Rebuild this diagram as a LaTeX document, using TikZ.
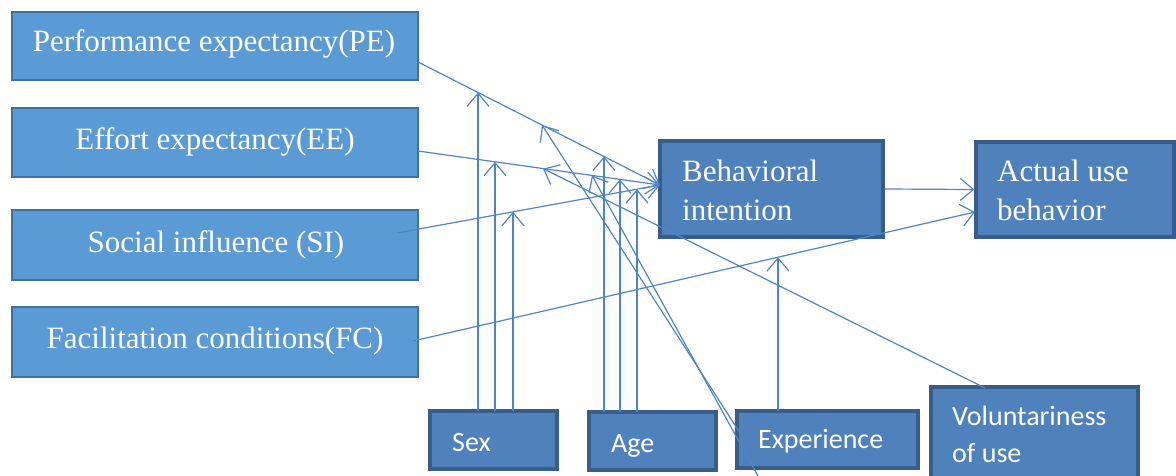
\documentclass[tikz,border=0pt]{standalone}
\usepackage{fontspec}
\usetikzlibrary{arrows.meta,calc}
\newfontfamily\boxserif{Liberation Serif}
\newfontfamily\boxsans{Carlito}
\definecolor{lfill}{HTML}{5B9BD5}
\definecolor{ldraw}{HTML}{41719C}
\definecolor{dfill}{HTML}{4F81BD}
\definecolor{ddraw}{HTML}{385D8A}
\definecolor{connc}{HTML}{4F85C6}
\tikzset{
  lbox/.style={rectangle, fill=lfill, draw=ldraw, line width=2pt, inner sep=0pt, minimum width=406pt},
  dbox/.style={rectangle, fill=dfill, draw=ddraw, line width=3.5pt, inner sep=0pt},
  stxt/.style={inner sep=0pt, text=white, font=\boxserif\fontsize{31}{38}\selectfont},
  ctxt/.style={inner sep=0pt, text=white, font=\boxsans\fontsize{28}{37}\selectfont, anchor=base west},
  conn/.style={draw=connc, line width=1.2pt, -{Straight Barb[length=13pt,width=22pt]}}
}
\begin{document}
\begin{tikzpicture}[x=1pt,y=-1pt]
\useasboundingbox (0,0) rectangle (1176,476);
\clip (0,0) rectangle (1176,476);
% left boxes
\node[lbox, minimum height=68pt] (pe) at (215,46) {};
\node[lbox, minimum height=69pt] (ee) at (215,142.5) {};
\node[lbox, minimum height=70pt] (si) at (215,245) {};
\node[lbox, minimum height=70pt] (fc) at (215,342) {};
% right boxes
\node[dbox, minimum width=223pt, minimum height=96pt] (bi) at (771.5,189) {};
\node[dbox, minimum width=198pt, minimum height=95pt] (au) at (1075,189.5) {};
% bottom boxes
\node[dbox, minimum width=127pt, minimum height=58pt] (sex) at (493.5,440) {};
\node[dbox, minimum width=127pt, minimum height=58pt] (age) at (652.5,441) {};
\node[dbox, minimum width=181pt, minimum height=57pt] (exp) at (827.5,439.5) {};
\node[dbox, minimum width=207pt, minimum height=106pt] (vol) at (1034.5,440) {};
% connector end points
\coordinate (peo) at (418,62);
\coordinate (eeo) at (418,151);
\coordinate (sio) at (397,233);
\coordinate (fco) at (413,341);
\coordinate (bii) at (660,185);
\coordinate (aui) at (975,212);
% main paths
\draw[conn] (peo) -- (bii);
\draw[conn] (eeo) -- (bii);
\draw[conn] (sio) -- (bii);
\draw[conn] (fco) -- (aui);
\draw[conn] (bi.east) -- (au.west);
% moderator targets
\coordinate (m1) at ($(peo)!0.2479!(bii)$);
\coordinate (m2) at ($(eeo)!0.3182!(bii)$);
\coordinate (m3) at ($(sio)!0.4411!(bii)$);
\coordinate (m4) at ($(peo)!0.7686!(bii)$);
\coordinate (m5) at ($(eeo)!0.8347!(bii)$);
\coordinate (m6) at ($(sio)!0.9125!(bii)$);
\coordinate (m7) at ($(fco)!0.6495!(aui)$);
\coordinate (m8) at ($(peo)!0.5124!(bii)$);
\coordinate (m9) at ($(eeo)!0.7190!(bii)$);
\coordinate (m10) at ($(eeo)!0.5165!(bii)$);
% moderator sources
\coordinate (s1) at (478,411);
\coordinate (s2) at (495,411);
\coordinate (s3) at (513,411);
\coordinate (a1) at (604,412);
\coordinate (a2) at (620,412);
\coordinate (a3) at (637,412);
\coordinate (e1) at (778,411);
\coordinate (e2) at (740,433);
\coordinate (e3) at (758,476);
\coordinate (v1) at (985,388);
\draw[conn] (s1) -- (s1 |- m1);
\draw[conn] (s2) -- (s2 |- m2);
\draw[conn] (s3) -- (s3 |- m3);
\draw[conn] (a1) -- (a1 |- m4);
\draw[conn] (a2) -- (a2 |- m5);
\draw[conn] (a3) -- (a3 |- m6);
\draw[conn] (e1) -- (e1 |- m7);
\draw[conn] (e2) -- (m8);
\draw[conn] (e3) -- (m9);
\draw[conn] (v1) -- (m10);
% texts
\node[stxt, anchor=base] (pe-t) at (214,52) {Performance expectancy(PE)};
\node[stxt, anchor=base] (ee-t) at (215,150) {Effort expectancy(EE)};
\node[stxt, anchor=base] (si-t) at (216,252) {Social influence (SI)};
\node[stxt, anchor=base] (fc-t) at (215,348) {Facilitation conditions(FC)};
\node[stxt, anchor=base west] (bi-t1) at (682,182) {Behavioral};
\node[stxt, anchor=base west] (bi-t2) at (682,220) {intention};
\node[stxt, anchor=base west] (au-t1) at (997,182) {Actual use};
\node[stxt, anchor=base west] (au-t2) at (997,220) {behavior};
\node[ctxt] (sex-t) at (452,451) {Sex};
\node[ctxt] (age-t) at (611,452) {Age};
\node[ctxt] (exp-t) at (758,448) {Experience};
\node[ctxt] (vol-t1) at (952,425) {Voluntariness};
\node[ctxt] (vol-t2) at (952,462) {of use};
\end{tikzpicture}
\end{document}
